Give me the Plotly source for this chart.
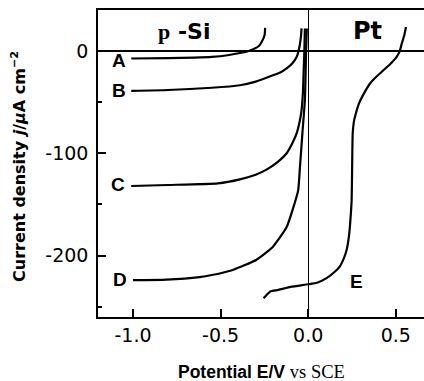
import plotly.graph_objects as go

# Curve data: potential (V vs SCE) and current density (uA cm^-2)
A_v = [-1.01, -0.8, -0.65, -0.55, -0.46, -0.39, -0.34, -0.305, -0.28, -0.266, -0.255, -0.249, -0.247, -0.246]
A_j = [-7.4, -7.0, -6.5, -5.8, -4.2, -2.0, 0.0, 2.3, 5.0, 8.8, 12.5, 15.5, 19.0, 22.5]

B_v = [-1.01, -0.8, -0.55, -0.39, -0.30, -0.22, -0.16, -0.123, -0.09, -0.066, -0.055, -0.047, -0.041, -0.038]
B_j = [-39.0, -38.2, -36.0, -33.5, -30.0, -25.0, -21.0, -17.0, -12.0, -6.0, 0.0, 7.0, 15.0, 22.0]

C_v = [-1.01, -0.8, -0.516, -0.39, -0.30, -0.238, -0.17, -0.123, -0.09, -0.066, -0.05, -0.038, -0.03, -0.026, -0.022, -0.019]
C_j = [-132.0, -131.0, -129.4, -125.5, -121.0, -116.0, -108.0, -100.0, -90.0, -80.6, -70.0, -58.0, -40.0, -20.0, 0.0, 22.0]

D_v = [-1.0, -0.81, -0.62, -0.55, -0.43, -0.295, -0.2, -0.123, -0.076, -0.057, -0.047, -0.033, -0.019, -0.012, -0.008]
D_j = [-224.0, -223.5, -221.0, -219.0, -214.0, -204.0, -191.0, -172.0, -148.0, -136.0, -113.0, -80.0, -48.0, 0.0, 22.0]

E_v = [-0.255, -0.235, -0.217, -0.17, -0.1, 0.0, 0.05, 0.105, 0.15, 0.18, 0.205, 0.22, 0.232, 0.238, 0.245, 0.248,
       0.251, 0.254, 0.26, 0.267, 0.29, 0.32, 0.353, 0.39, 0.43, 0.47, 0.505, 0.523, 0.534, 0.548, 0.558]
E_j = [-241.6, -238.0, -235.0, -233.5, -230.5, -228.0, -226.5, -222.0, -216.0, -210.7, -202.0, -194.0, -182.0, -171.7,
       -155.0, -145.7, -110.0, -80.6, -70.0, -64.4, -51.3, -41.0, -31.8, -25.0, -18.8, -12.5, -5.8, 0.0, 7.2, 15.0, 23.4]

x_ticks = [-1.0, -0.5, 0.0, 0.5]
x_labels = ["-1.0", "-0.5", "0.0", "0.5"]
y_ticks = [0, -100, -200]
y_labels = ["0", "-100", "-200"]
y_minor = [-250, -150, -50]

curve_labels = ["A", "B", "C", "D", "E"]
label_v = [-1.082, -1.082, -1.087, -1.076, 0.278]
label_j = [-9.0, -38.3, -131.0, -223.7, -225.7]

fig = go.Figure()
for v, j in [(A_v, A_j), (B_v, B_j), (C_v, C_j), (D_v, D_j), (E_v, E_j)]:
    fig.add_trace(go.Scatter(x=v, y=j, mode="lines",
                             line=dict(color="black", width=2.2, shape="spline", smoothing=0.5),
                             hoverinfo="skip"))

annotations = []
for t, v, j in zip(curve_labels, label_v, label_j):
    annotations.append(dict(x=v, y=j, xref="x", yref="y", text="<b>%s</b>" % t, showarrow=False,
                            font=dict(family="Liberation Sans", size=19, color="black"),
                            xanchor="center", yanchor="middle"))
annotations.append(dict(x=-0.71, y=19.2, xref="x", yref="y",
                        text='<b><span style="font-family:Liberation Serif">p</span> -Si</b>',
                        showarrow=False, font=dict(family="DejaVu Sans", size=22, color="black"),
                        xanchor="center", yanchor="middle"))
annotations.append(dict(x=0.338, y=19.7, xref="x", yref="y", text="<b>Pt</b>", showarrow=False,
                        font=dict(family="DejaVu Sans", size=24, color="black"),
                        xanchor="center", yanchor="middle"))
annotations.append(dict(x=-0.242, y=0.489, xref="paper", yref="paper", textangle=-90,
                        text="<b>Current density <i>j</i>/<i>μ</i>A cm<sup>−2</sup></b>", showarrow=False,
                        font=dict(family="DejaVu Sans", size=16, color="black"),
                        xanchor="center", yanchor="middle"))
annotations.append(dict(x=0.503, y=-0.178, xref="paper", yref="paper",
                        text='<b>Potential E/V</b> <span style="font-family:Liberation Serif;font-size:18.5px">vs SCE</span>',
                        showarrow=False, font=dict(family="Liberation Sans", size=17.5, color="black"),
                        xanchor="center", yanchor="middle"))

fig.update_layout(
    width=424, height=381,
    margin=dict(l=98, r=0, t=10, b=64),
    plot_bgcolor="white", paper_bgcolor="white",
    showlegend=False,
    annotations=annotations,
    xaxis=dict(range=[-1.2, 0.661], tickvals=x_ticks, ticktext=x_labels, ticks="inside", ticklen=8,
               tickwidth=1.5, tickcolor="black", showline=True, linecolor="black", linewidth=1.5,
               mirror=True, showgrid=False, zeroline=True, zerolinecolor="black", zerolinewidth=1.2,
               tickfont=dict(family="DejaVu Sans", size=19, color="black"), ticklabelstandoff=0),
    yaxis=dict(range=[-260, 40], tickvals=y_ticks, ticktext=y_labels, ticks="inside", ticklen=8,
               tickwidth=1.5, tickcolor="black", showline=True, linecolor="black", linewidth=1.5,
               showgrid=False, zeroline=True, zerolinecolor="black", zerolinewidth=1.5,
               minor=dict(tickvals=y_minor, ticks="inside", ticklen=4, tickwidth=1.5, tickcolor="black"),
               tickfont=dict(family="DejaVu Sans", size=19, color="black"), ticklabelstandoff=4),
)

fig.write_html("out.html", config={"displayModeBar": False},
               post_script="document.body.style.margin='0';document.body.style.overflow='hidden';")
